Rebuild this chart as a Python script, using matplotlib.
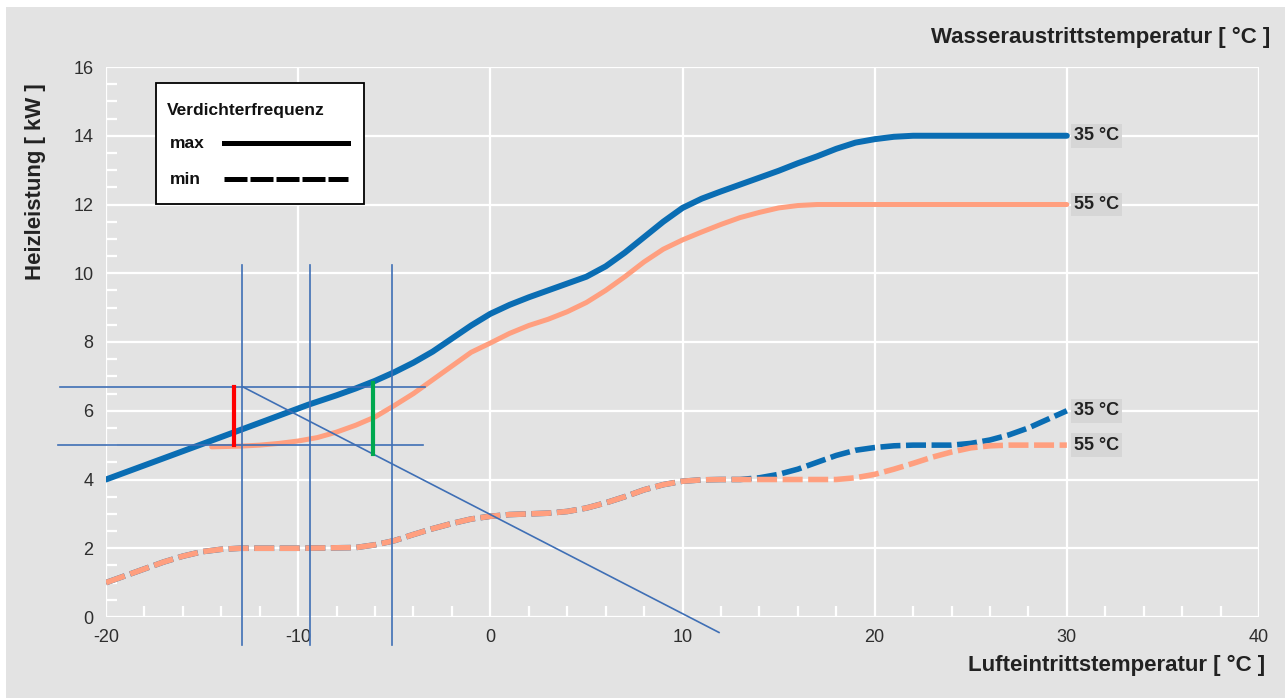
import numpy as np
import matplotlib
matplotlib.use("Agg")
import matplotlib.pyplot as plt
from matplotlib.lines import Line2D
from matplotlib.patches import Rectangle

plt.rcParams['font.family'] = ['Liberation Sans', 'DejaVu Sans']
plt.rcParams['axes.unicode_minus'] = False

# Heizleistung bei max. Verdichterfrequenz
x_max35 = [-20, -15, -12, -9.5, -8, -7, -6, -5, -4, -3, -2, -1, 0, 1, 2, 3, 4, 5, 6, 7, 8, 9, 10,
           11, 12, 13, 14, 15, 16, 17, 18, 19, 20, 21, 22, 26, 30]
y_max35 = [4.0, 5.03, 5.65, 6.17, 6.45, 6.65, 6.87, 7.12, 7.4, 7.72, 8.1, 8.48, 8.82, 9.08, 9.3, 9.5,
           9.7, 9.9, 10.2, 10.6, 11.05, 11.5, 11.9, 12.17, 12.38, 12.58, 12.78, 12.98, 13.2, 13.4,
           13.62, 13.8, 13.9, 13.97, 14.0, 14.0, 14.0]
x_max55 = [-14.5, -13, -12, -11, -10, -9, -8, -7, -6, -5, -4, -3, -2, -1, 0, 1, 2, 3, 4, 5, 6, 7, 8,
           9, 10, 11, 12, 13, 14, 15, 16, 17, 20, 25, 30]
y_max55 = [4.95, 4.97, 5.0, 5.05, 5.12, 5.22, 5.38, 5.58, 5.82, 6.15, 6.5, 6.9, 7.3, 7.7, 7.97, 8.25,
           8.48, 8.66, 8.88, 9.15, 9.5, 9.9, 10.33, 10.7, 10.97, 11.2, 11.42, 11.62, 11.77, 11.9,
           11.97, 12.0, 12.0, 12.0, 12.0]

# Heizleistung bei min. Verdichterfrequenz
x_min55 = [-20, -19, -18, -17, -16, -15, -14, -13, -10, -7, -6, -5, -4, -3, -2, -1, 0, 1, 2, 3, 4,
           5, 6, 7, 8, 9, 10, 11, 12, 18, 19, 20, 21, 22, 23, 24, 25, 26, 27, 30]
y_min55 = [1.0, 1.2, 1.4, 1.6, 1.77, 1.9, 1.97, 2.0, 2.0, 2.02, 2.1, 2.22, 2.4, 2.57, 2.72, 2.85,
           2.93, 2.98, 3.0, 3.02, 3.07, 3.17, 3.32, 3.5, 3.7, 3.85, 3.95, 3.99, 4.0, 4.0, 4.05,
           4.15, 4.3, 4.47, 4.65, 4.8, 4.92, 4.98, 5.0, 5.0]
x_min35 = [-20, -19, -18, -17, -16, -15, -14, -13, -10, -7, -6, -5, -4, -3, -2, -1, 0, 1, 2, 3, 4,
           5, 6, 7, 8, 9, 10, 11, 12, 13, 14, 15, 16, 17, 18, 19, 20, 21, 22, 24, 25, 26, 27, 28,
           29, 30]
y_min35 = [1.0, 1.2, 1.4, 1.6, 1.77, 1.9, 1.97, 2.0, 2.0, 2.02, 2.1, 2.22, 2.4, 2.57, 2.72, 2.85,
           2.93, 2.98, 3.0, 3.02, 3.07, 3.17, 3.32, 3.5, 3.7, 3.85, 3.95, 3.99, 4.0, 4.0, 4.05,
           4.15, 4.3, 4.5, 4.7, 4.85, 4.93, 4.98, 5.0, 5.0, 5.05, 5.15, 5.3, 5.5, 5.75, 6.0]

curve_labels = ["35 °C", "55 °C"]

# Ablese-Hilfslinien
help_h_y = [6.7, 5.0]
help_h_x = [(-22.4, -3.4), (-22.5, -3.5)]
help_v_x = [-12.9, -9.4, -5.1]
help_v_y = (-0.8, 10.25)
help_diag = ([-12.9, 11.9], [6.7, -0.45])
mark_red = (-13.35, 5.0, 6.7)
mark_green = (-6.1, 4.75, 6.8)

BLUE = '#0a6db3'
SALMON = '#ff9f7f'
HELP = '#3f6fb5'
BG = '#e3e3e3'
W, H = 1285, 698


def fx(px):
    return px / W


def fy(py):
    return 1 - py / H


fig = plt.figure(figsize=(12.85, 6.98), dpi=100)
fig.patch.set_facecolor('white')
bg = fig.add_axes([fx(6), 0, 1 - fx(6), fy(7)], zorder=-10)
bg.set_axis_off()
bg.add_patch(Rectangle((0, 0), 1, 1, transform=bg.transAxes, facecolor=BG, edgecolor='none'))

ax = fig.add_axes([fx(106), fy(617), fx(1259 - 106), (617 - 67) / H])
ax.set_facecolor(BG)
ax.set_xlim(-20, 40)
ax.set_ylim(0, 16)
ax.set_xticks(np.arange(-20, 41, 10))
ax.set_yticks(np.arange(0, 17, 2))
ax.set_xticks(np.arange(-20, 41, 2), minor=True)
ax.set_yticks(np.arange(0, 16.1, 0.5), minor=True)
for s in ax.spines.values():
    s.set_visible(False)
ax.grid(True, which='major', color='white', linewidth=1.6, zorder=0)
ax.tick_params(which='major', length=0, labelsize=13, labelcolor='#2e2e2e')
ax.tick_params(axis='x', which='major', pad=9)
ax.tick_params(axis='y', which='major', pad=9)
ax.tick_params(which='minor', direction='in', length=8, width=1.6, color='white')
ax.set_axisbelow(True)

dash = dict(linestyle=(0, (3.6, 1.0)), dash_capstyle='butt', dash_joinstyle='round')
ax.plot(x_min35, y_min35, color=BLUE, linewidth=4.0, zorder=3, **dash)
ax.plot(x_min55, y_min55, color=SALMON, linewidth=4.0, zorder=4, **dash)
ax.plot(x_max55, y_max55, color=SALMON, linewidth=3.6, zorder=3,
        solid_capstyle='round', solid_joinstyle='round')
ax.plot(x_max35, y_max35, color=BLUE, linewidth=4.3, zorder=4,
        solid_capstyle='round', solid_joinstyle='round')

# Kurvenbeschriftung rechts
for xs, ys, lab in [(x_max35, y_max35, curve_labels[0]), (x_max55, y_max55, curve_labels[1]),
                    (x_min35, y_min35, curve_labels[0]), (x_min55, y_min55, curve_labels[1])]:
    ax.annotate(lab, (xs[-1], ys[-1]), xytext=(5, 0), textcoords='offset points',
                ha='left', va='center', fontsize=13, fontweight='bold', color='#222222',
                bbox=dict(boxstyle='square,pad=0.18', facecolor='#d6d6d6', edgecolor='none'),
                zorder=5)

# Hilfslinien
hl = dict(color=HELP, linewidth=1.2, clip_on=False, zorder=6)
for yv, (xa, xb) in zip(help_h_y, help_h_x):
    ax.plot([xa, xb], [yv, yv], **hl)
for xv in help_v_x:
    ax.plot([xv, xv], help_v_y, **hl)
ax.plot(help_diag[0], help_diag[1], **hl)
ax.plot([mark_red[0]] * 2, mark_red[1:], color='#ff0000', linewidth=3, zorder=7)
ax.plot([mark_green[0]] * 2, mark_green[1:], color='#00a84f', linewidth=3, zorder=7)

# Legende (Verdichterfrequenz)
fig.add_artist(Rectangle((fx(156), fy(204)), fx(364 - 156), (204 - 83) / H,
                         transform=fig.transFigure, facecolor='white', edgecolor='black',
                         linewidth=1.3, zorder=8))
fig.text(fx(167), fy(110), 'Verdichterfrequenz', ha='left', va='center', fontsize=12.5,
         fontweight='bold', color='#111111', zorder=9)
for py, lab, ls in [(143, 'max', '-'), (179, 'min', (0, (4.6, 0.6)))]:
    fig.text(fx(170), fy(py), lab, ha='left', va='center', fontsize=12.5,
             fontweight='bold', color='#111111', zorder=9)
    fig.add_artist(Line2D([fx(224), fx(348)], [fy(py), fy(py)], transform=fig.transFigure,
                          color='black', linewidth=3.6, linestyle=ls, dash_capstyle='butt',
                          zorder=9))

fig.text(fx(36), fy(182), 'Heizleistung [ kW ]', rotation=90, ha='center', va='center',
         fontsize=16, fontweight='bold', color='#222222')
fig.text(fx(1270), fy(37), 'Wasseraustrittstemperatur [ °C ]', ha='right', va='center',
         fontsize=16, fontweight='bold', color='#222222')
fig.text(fx(1265), fy(665), 'Lufteintrittstemperatur [ °C ]', ha='right', va='center',
         fontsize=16, fontweight='bold', color='#222222')

fig.savefig('out.png', dpi=100, facecolor=fig.get_facecolor())
